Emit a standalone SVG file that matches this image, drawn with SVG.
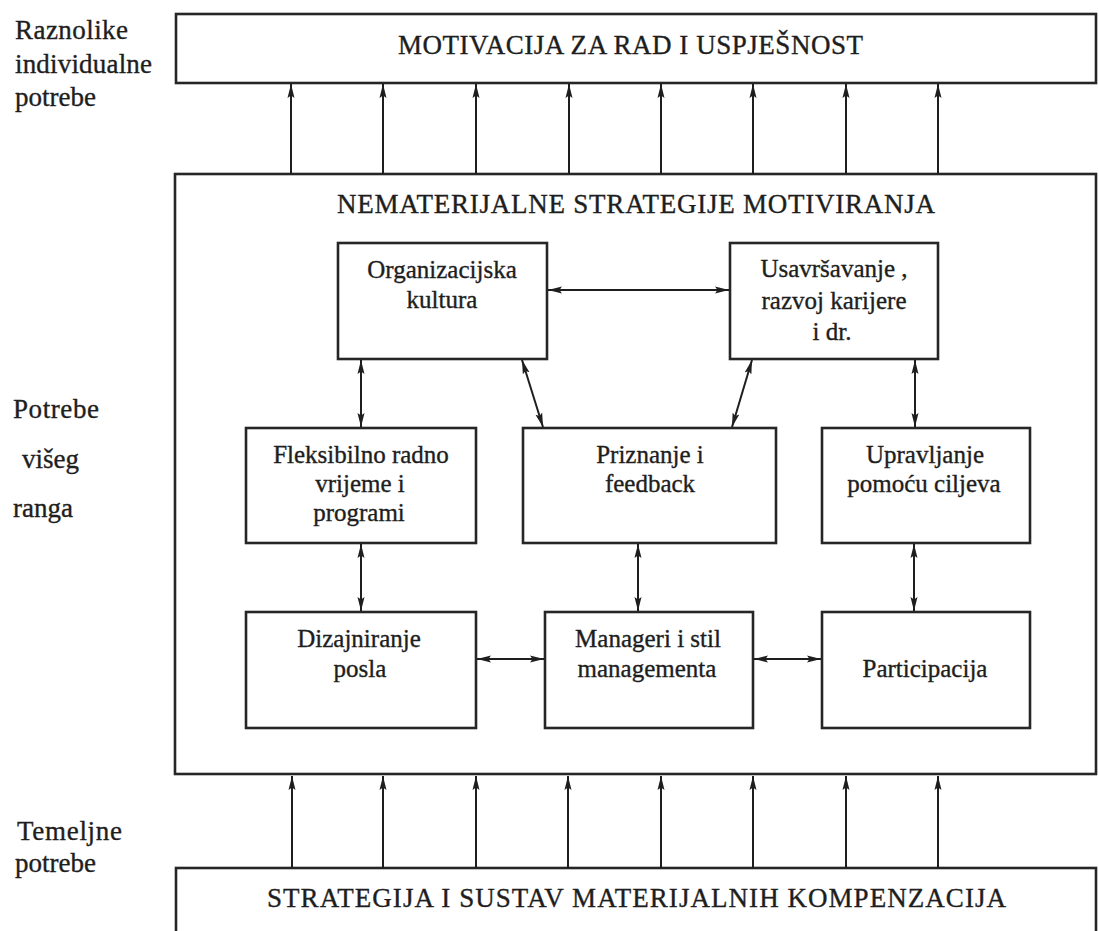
<svg xmlns="http://www.w3.org/2000/svg" width="1099" height="931" viewBox="0 0 1099 931">
<style>
.box{fill:#fff;stroke:#262626;stroke-width:2.6}
.big{fill:none;stroke:#262626;stroke-width:2.6}
.t{font-family:"Liberation Serif","Times New Roman",serif;fill:#1e1e1e;stroke:#1e1e1e;stroke-width:0.35}
.title{font-size:27px}
.lbl{font-size:27px}
.bt{font-size:25px;text-anchor:middle}
.c{stroke:#1e1e1e;stroke-width:2;fill:none}
.up{marker-end:url(#ah)}
.bi{marker-start:url(#ah);marker-end:url(#ah)}
</style>
<defs>
<marker id="ah" viewBox="0 0 14 8" refX="14" refY="4" markerWidth="14" markerHeight="8" markerUnits="userSpaceOnUse" orient="auto-start-reverse">
<path d="M0,0.5 L14,4 L0,7.5 L2.5,4 z" fill="#1e1e1e"/>
</marker>
</defs>
<rect width="1099" height="931" fill="#fff"/>

<g id="labels">
<text class="t lbl" x="15" y="39" textLength="113">Raznolike</text>
<text class="t lbl" x="15" y="73" textLength="137">individualne</text>
<text class="t lbl" x="15" y="106">potrebe</text>
<text class="t lbl" x="13" y="418" textLength="86">Potrebe</text>
<text class="t lbl" x="22" y="468">višeg</text>
<text class="t lbl" x="13" y="517">ranga</text>
<text class="t lbl" x="17" y="840" textLength="105">Temeljne</text>
<text class="t lbl" x="15" y="872">potrebe</text>
</g>

<g id="motivacija">
<rect class="box" x="176" y="14" width="920" height="69"/>
<text class="t title" x="398" y="54" textLength="465">MOTIVACIJA ZA RAD I USPJEŠNOST</text>
</g>

<g id="nematerijalne">
<rect class="big" x="175" y="174" width="921" height="600"/>
<text class="t title" x="337" y="213" textLength="598">NEMATERIJALNE STRATEGIJE MOTIVIRANJA</text>
</g>

<g id="materijalne">
<rect class="box" x="176" y="868" width="920" height="90"/>
<text class="t title" x="267" y="907" textLength="739">STRATEGIJA I SUSTAV MATERIJALNIH KOMPENZACIJA</text>
</g>

<g id="organizacijska">
<rect class="box" x="338" y="243" width="209" height="116"/>
<text class="t bt" x="442" y="278">Organizacijska</text>
<text class="t bt" x="442" y="308">kultura</text>
</g>

<g id="usavrsavanje">
<rect class="box" x="730" y="243" width="208" height="116"/>
<text class="t bt" x="834" y="277">Usavršavanje ,</text>
<text class="t bt" x="834" y="309">razvoj karijere</text>
<text class="t bt" x="832" y="340">i dr.</text>
</g>

<g id="fleksibilno">
<rect class="box" x="246" y="428" width="230" height="115"/>
<text class="t bt" x="361" y="463">Fleksibilno radno</text>
<text class="t bt" x="360" y="492">vrijeme i</text>
<text class="t bt" x="359" y="521">programi</text>
</g>

<g id="priznanje">
<rect class="box" x="523" y="428" width="253" height="115"/>
<text class="t bt" x="650" y="463">Priznanje i</text>
<text class="t bt" x="650" y="492">feedback</text>
</g>

<g id="upravljanje">
<rect class="box" x="822" y="428" width="208" height="115"/>
<text class="t bt" x="925" y="463">Upravljanje</text>
<text class="t bt" x="924" y="492">pomoću ciljeva</text>
</g>

<g id="dizajniranje">
<rect class="box" x="246" y="612" width="230" height="116"/>
<text class="t bt" x="359" y="647">Dizajniranje</text>
<text class="t bt" x="360" y="677">posla</text>
</g>

<g id="manageri">
<rect class="box" x="545" y="612" width="208" height="116"/>
<text class="t bt" x="648" y="647">Manageri i stil</text>
<text class="t bt" x="647" y="677">managementa</text>
</g>

<g id="participacija">
<rect class="box" x="822" y="612" width="208" height="116"/>
<text class="t bt" x="925" y="677">Participacija</text>
</g>

<g id="connectors">
<line class="c up" x1="291" y1="174" x2="291" y2="84"/>
<line class="c up" x1="383" y1="174" x2="383" y2="84"/>
<line class="c up" x1="476" y1="174" x2="476" y2="84"/>
<line class="c up" x1="569" y1="174" x2="569" y2="84"/>
<line class="c up" x1="661" y1="174" x2="661" y2="84"/>
<line class="c up" x1="753" y1="174" x2="753" y2="84"/>
<line class="c up" x1="846" y1="174" x2="846" y2="84"/>
<line class="c up" x1="938" y1="174" x2="938" y2="84"/>

<line class="c up" x1="292" y1="868" x2="292" y2="776"/>
<line class="c up" x1="383" y1="868" x2="383" y2="776"/>
<line class="c up" x1="476" y1="868" x2="476" y2="776"/>
<line class="c up" x1="568" y1="868" x2="568" y2="776"/>
<line class="c up" x1="661" y1="868" x2="661" y2="776"/>
<line class="c up" x1="753" y1="868" x2="753" y2="776"/>
<line class="c up" x1="846" y1="868" x2="846" y2="776"/>
<line class="c up" x1="938" y1="868" x2="938" y2="776"/>

<line class="c bi" x1="548" y1="290" x2="729" y2="290"/>
<line class="c bi" x1="361" y1="360" x2="361" y2="427"/>
<line class="c bi" x1="522" y1="360" x2="543" y2="427"/>
<line class="c bi" x1="752" y1="360" x2="732" y2="427"/>
<line class="c bi" x1="915" y1="360" x2="915" y2="427"/>
<line class="c bi" x1="361" y1="544" x2="361" y2="611"/>
<line class="c bi" x1="638" y1="544" x2="638" y2="611"/>
<line class="c bi" x1="914" y1="544" x2="914" y2="611"/>
<line class="c bi" x1="477" y1="659" x2="544" y2="659"/>
<line class="c bi" x1="754" y1="659" x2="821" y2="659"/>
</g>
</svg>
